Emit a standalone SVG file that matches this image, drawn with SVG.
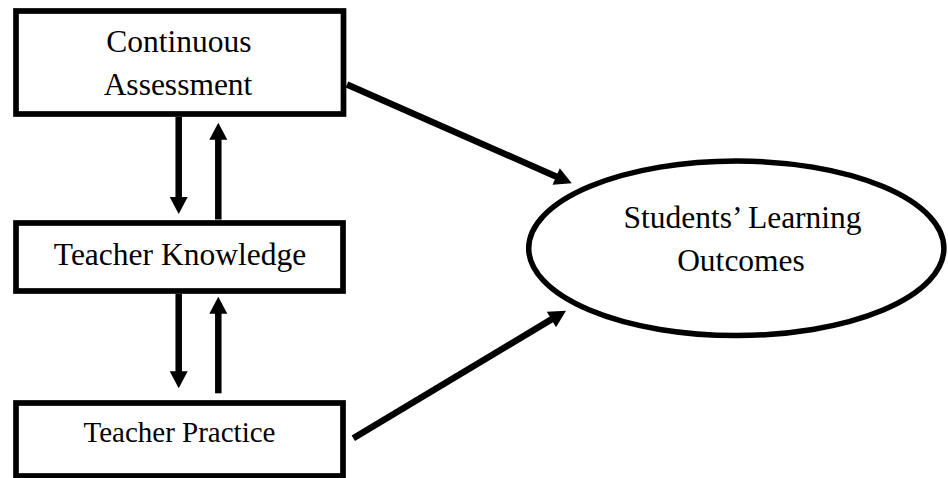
<svg xmlns="http://www.w3.org/2000/svg" width="948" height="478" viewBox="0 0 948 478">
<style>
.box{fill:#fff;stroke:#000;stroke-width:5.7}
.ell{fill:#fff;stroke:#000;stroke-width:5.5}
.lbl{font-family:"Liberation Serif","Times New Roman",serif;font-size:31.5px;fill:#000;text-anchor:middle}
.conn{stroke:#000;stroke-width:6.5;fill:none;marker-end:url(#ah)}
</style>
<defs>
<marker id="ah" markerUnits="userSpaceOnUse" markerWidth="18" markerHeight="19" refX="1" refY="9" orient="auto" overflow="visible">
<path d="M0,0 L17,9 L0,18 Z" fill="#000"/>
</marker>
</defs>
<rect width="948" height="478" fill="#fff"/>
<g id="continuous-assessment">
<rect class="box" x="16" y="11" width="327.5" height="103"/>
<text class="lbl" x="179" y="51.7">Continuous</text>
<text class="lbl" x="178" y="95">Assessment</text>
</g>
<g id="teacher-knowledge">
<rect class="box" x="16" y="223" width="327" height="68"/>
<text class="lbl" x="180" y="265">Teacher Knowledge</text>
</g>
<g id="teacher-practice">
<rect class="box" x="16" y="403" width="327" height="73"/>
<text class="lbl" x="179.5" y="441.7" style="font-size:29px">Teacher Practice</text>
</g>
<g id="students-learning-outcomes">
<ellipse class="ell" cx="736.3" cy="248.3" rx="207.6" ry="87.3"/>
<text class="lbl" x="742.5" y="228.3">Students’ Learning</text>
<text class="lbl" x="741" y="270.7">Outcomes</text>
</g>
<g id="connectors">
<line class="conn" x1="178.7" y1="117" x2="178.7" y2="198"/>
<line class="conn" x1="218.3" y1="219.5" x2="218.3" y2="138.7"/>
<line class="conn" x1="178.7" y1="294" x2="178.7" y2="372.3"/>
<line class="conn" x1="218.3" y1="393.3" x2="218.3" y2="312.7"/>
<line class="conn" x1="347" y1="84.5" x2="557.1" y2="176.9"/>
<line class="conn" x1="353.3" y1="438.3" x2="552.3" y2="318.9"/>
</g>
</svg>
